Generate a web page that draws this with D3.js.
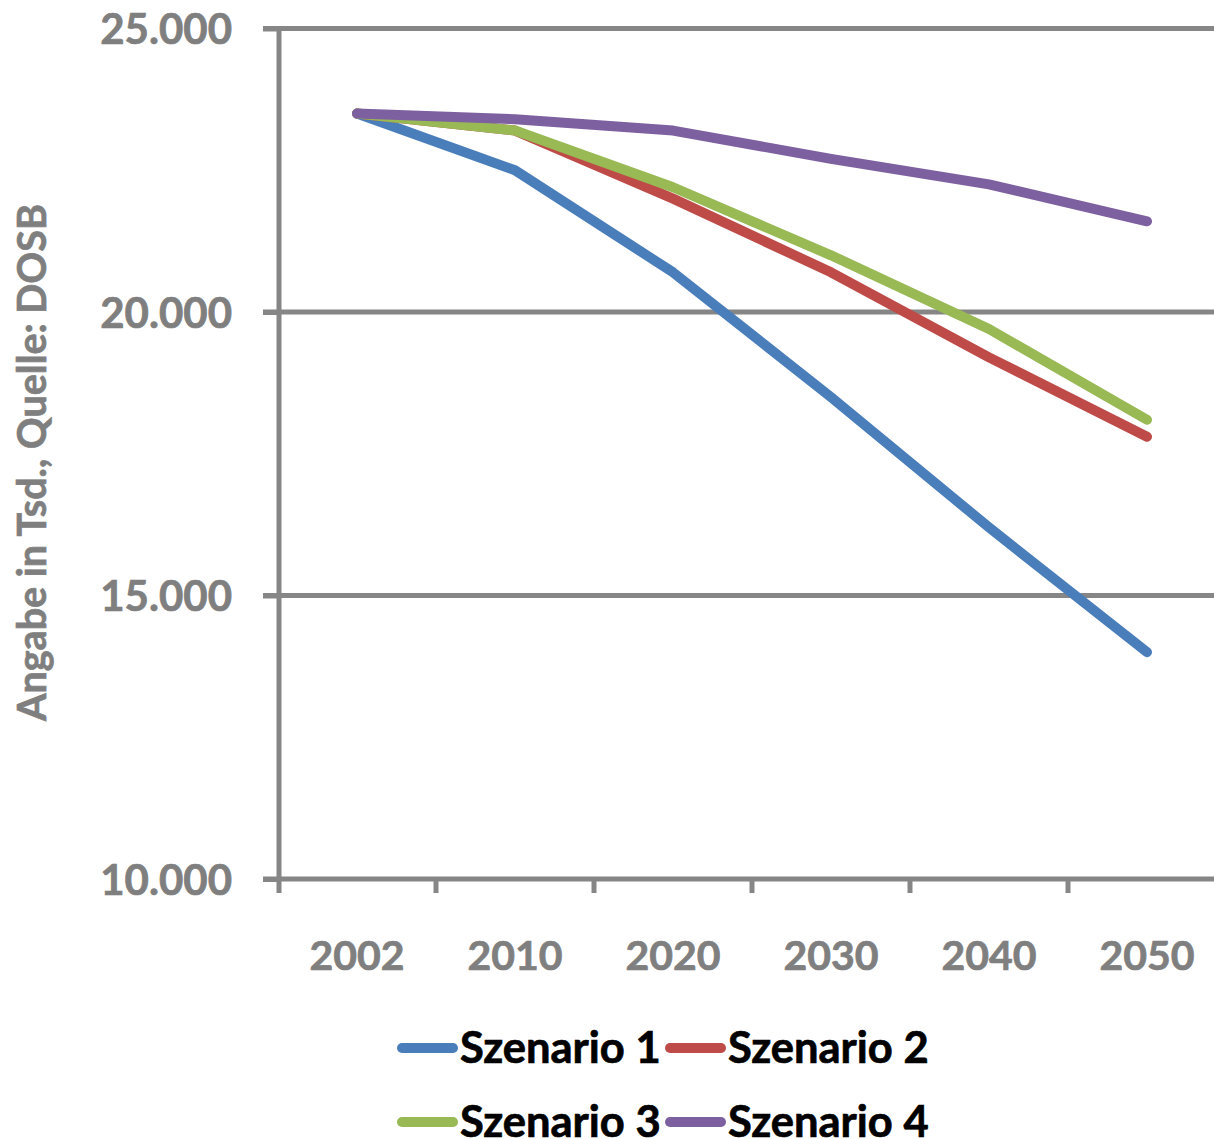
<!DOCTYPE html>
<html>
<head>
<meta charset="utf-8">
<script src="https://cdn.jsdelivr.net/npm/d3@7"></script>
<style>
  html, body { margin: 0; padding: 0; background: #ffffff; }
  svg { display: block; }
  text { font-family: Lato, "Open Sans", sans-serif; font-weight: bold; stroke-width: 0.7px; paint-order: stroke; }
</style>
</head>
<body>
<svg id="chart" width="1214" height="1139"></svg>
<script>
// Years on the category axis
const years = ["2002", "2010", "2020", "2030", "2040", "2050"];

// Projected values (in thousands) per scenario
const szenario1 = [23500, 22500, 20700, 18500, 16200, 14000];
const szenario2 = [23500, 23200, 22000, 20700, 19200, 17800];
const szenario3 = [23500, 23200, 22200, 21000, 19700, 18100];
const szenario4 = [23500, 23400, 23200, 22700, 22250, 21600];

const seriesNames = ["Szenario 1", "Szenario 2", "Szenario 3", "Szenario 4"];
const seriesColors = ["#4a7ebb", "#be4b48", "#98b954", "#7d60a0"];

// Y axis ticks
const yTicks = [10000, 15000, 20000, 25000];
const yTitle = "Angabe in Tsd., Quelle: DOSB";

const seriesValues = [szenario1, szenario2, szenario3, szenario4];

const svg = d3.select("#chart");
const W = 1214;

const x = d3.scaleBand().domain(years).range([278, 1226]).padding(0);
const y = d3.scaleLinear().domain([10000, 25000]).range([879, 28.5]);

const de = d3.formatLocale({ decimal: ",", thousands: ".", grouping: [3], currency: ["", " €"] });
const fmt = de.format(",.0f");

const axisColor = "#868686";
const labelColor = "#7f7f7f";

// Horizontal gridlines (with the short outward tick on the left)
svg.append("g")
  .selectAll("line")
  .data(yTicks.filter(d => d > 10000))
  .join("line")
  .attr("x1", 263).attr("x2", W)
  .attr("y1", d => y(d)).attr("y2", d => y(d))
  .attr("stroke", axisColor).attr("stroke-width", 5);

// Y axis
const yAxis = d3.axisLeft(y).tickValues(yTicks).tickFormat(fmt).tickSize(16).tickPadding(30);
const gy = svg.append("g").attr("transform", `translate(${x.range()[0] + 1},0)`).call(yAxis);
gy.select(".domain").remove();
gy.selectAll(".tick line").attr("stroke", axisColor).attr("stroke-width", 5);
gy.selectAll(".tick text")
  .attr("fill", labelColor)
  .attr("stroke", labelColor)
  .attr("font-size", 42)
  .attr("dy", "0.36em")
  .attr("x", -47);
gy.append("line")
  .attr("x1", 0).attr("x2", 0)
  .attr("y1", y(25000) - 2.5).attr("y2", y(10000) + 14)
  .attr("stroke", axisColor).attr("stroke-width", 5);

// X axis: ticks sit on the category boundaries
const gx = svg.append("g").attr("transform", `translate(0,${y(10000)})`);
gx.append("line")
  .attr("x1", 263).attr("x2", W)
  .attr("y1", 0).attr("y2", 0)
  .attr("stroke", axisColor).attr("stroke-width", 5);
gx.selectAll("line.tk")
  .data(years.slice(1))
  .join("line")
  .attr("class", "tk")
  .attr("x1", d => x(d)).attr("x2", d => x(d))
  .attr("y1", 0).attr("y2", 14)
  .attr("stroke", axisColor).attr("stroke-width", 5);
gx.selectAll("text")
  .data(years)
  .join("text")
  .attr("x", d => x(d) + x.bandwidth() / 2)
  .attr("y", 91)
  .attr("text-anchor", "middle")
  .attr("fill", labelColor)
  .attr("stroke", labelColor)
  .attr("font-size", 41)
  .text(d => d);

// Y axis title
svg.append("text")
  .attr("transform", `translate(46,${(208 + 717) / 2}) rotate(-90)`)
  .attr("text-anchor", "middle")
  .attr("fill", labelColor)
  .attr("stroke", labelColor)
  .attr("font-size", 39.5)
  .text(yTitle);

// Scenario lines
const line = d3.line()
  .x((d, i) => x(years[i]) + x.bandwidth() / 2)
  .y(d => y(d));

svg.append("g")
  .selectAll("path")
  .data(seriesValues)
  .join("path")
  .attr("d", d => line(d))
  .attr("fill", "none")
  .attr("stroke", (d, i) => seriesColors[i])
  .attr("stroke-width", 10)
  .attr("stroke-linecap", "round")
  .attr("stroke-linejoin", "round");

// Legend, two entries per row
const legendPos = [[397, 1048], [665, 1048], [397, 1122], [665, 1122]];
const lg = svg.append("g")
  .selectAll("g")
  .data(seriesNames)
  .join("g")
  .attr("transform", (d, i) => `translate(${legendPos[i][0]},${legendPos[i][1]})`);
lg.append("line")
  .attr("x1", 5).attr("x2", 56)
  .attr("y1", 0).attr("y2", 0)
  .attr("stroke", (d, i) => seriesColors[i])
  .attr("stroke-width", 10)
  .attr("stroke-linecap", "round");
lg.append("text")
  .attr("x", 63)
  .attr("y", 15)
  .attr("fill", "#000")
  .attr("stroke", "#000")
  .attr("font-size", 43.5)
  .text(d => d);
</script>
</body>
</html>
